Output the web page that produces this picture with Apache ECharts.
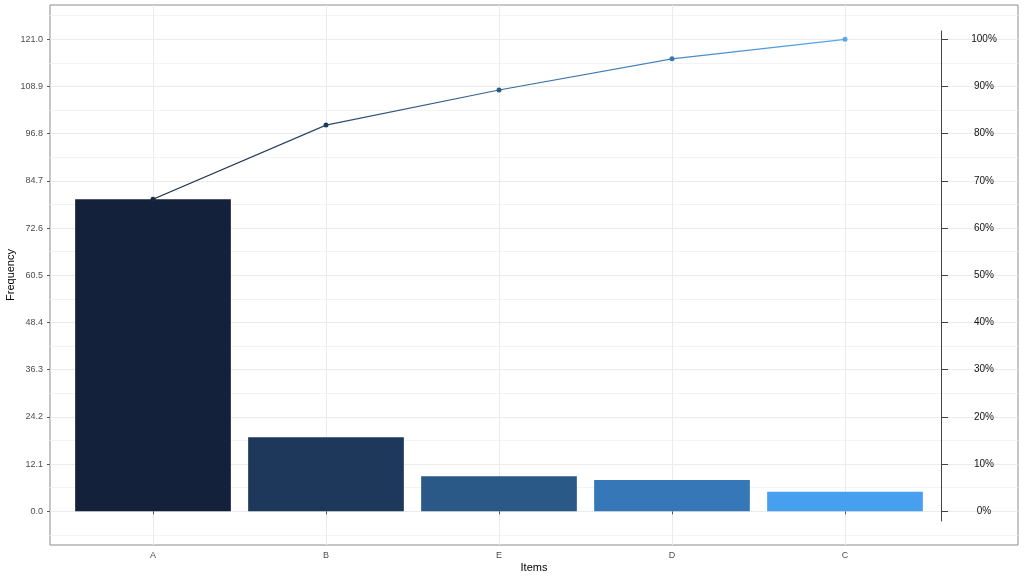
<!DOCTYPE html>
<html>
<head>
<meta charset="utf-8">
<script src="https://cdn.jsdelivr.net/npm/echarts@6/dist/echarts.min.js"></script>
<style>
  html, body { margin: 0; padding: 0; background: #fff; }
  #chart { width: 1024px; height: 576px; }
</style>
</head>
<body>
<div id="chart"></div>
<script>
// pareto data
var items = ['A', 'B', 'E', 'D', 'C'];
var frequency = [80, 19, 9, 8, 5];
var cumulative = [80, 99, 108, 116, 121];
var barColors = ['#13213a', '#1d385b', '#2a5887', '#3677b8', '#479ff0'];
var pointColors = ['#1a2a40', '#1e3b5d', '#2a5a88', '#3a78b5', '#56a8f0'];
var freqTicks = [0, 12.1, 24.2, 36.3, 48.4, 60.5, 72.6, 84.7, 96.8, 108.9, 121];
var minorTicks = [-6.05, 6.05, 18.15, 30.25, 42.35, 54.45, 66.55, 78.65, 90.75, 102.85, 114.95, 127.05];
var pctTicks = [0, 10, 20, 30, 40, 50, 60, 70, 80, 90, 100];

var FONT = 'Liberation Sans';
var yMin = -8.64, yMax = 129.79;

var chart = echarts.init(document.getElementById('chart'));

var option = {
  animation: false,
  textStyle: { fontFamily: FONT },
  graphic: [
    {
      type: 'text', x: 11, y: 275, rotation: Math.PI / 2,
      style: { text: 'Frequency', fill: '#000', font: '11px "Liberation Sans"', align: 'center', verticalAlign: 'middle' }
    }
  ],
  grid: [
    // panel frame
    { left: 50, right: 6, top: 5, bottom: 31, show: true, borderColor: '#8c8c8c', borderWidth: 1,
      containLabel: false, outerBoundsMode: 'none' },
    // bars / line
    { left: 153, right: 179, top: 5, bottom: 31, containLabel: false, outerBoundsMode: 'none' },
    // percent axis
    { left: 800, right: 83, top: 31, bottom: 55, containLabel: false, outerBoundsMode: 'none' }
  ],
  xAxis: [
    {
      type: 'category', gridIndex: 1, data: items, boundaryGap: false,
      axisLine: { show: false },
      axisTick: { show: true, length: 3, lineStyle: { color: '#555' } },
      axisLabel: { color: '#4d4d4d', fontSize: 9, margin: 6 },
      splitLine: { show: true, lineStyle: { color: '#ebebeb', width: 1 } }
    },
    {
      type: 'value', gridIndex: 0, min: 0, max: 1,
      axisLine: { show: false }, axisTick: { show: false },
      axisLabel: { show: false }, splitLine: { show: false },
      name: 'Items', nameLocation: 'middle', nameGap: 17,
      nameTextStyle: { color: '#000', fontSize: 11 }
    },
    {
      type: 'value', gridIndex: 2, min: 0, max: 1, show: false
    }
  ],
  yAxis: [
    {
      type: 'value', gridIndex: 0, min: yMin, max: yMax,
      axisLine: { show: false },
      axisTick: { show: true, length: 3, customValues: freqTicks, lineStyle: { color: '#555' } },
      axisLabel: {
        customValues: freqTicks, color: '#4d4d4d', fontSize: 9, margin: 7,
        formatter: function (v) { return v.toFixed(1); }
      },
      splitLine: { show: true, lineStyle: { color: '#ebebeb', width: 1 } }
    },
    {
      type: 'value', gridIndex: 0, min: yMin, max: yMax,
      axisLine: { show: false },
      axisTick: { show: false, customValues: minorTicks },
      axisLabel: { show: false, customValues: minorTicks },
      splitLine: { show: true, lineStyle: { color: '#f3f3f3', width: 1 } }
    },
    {
      type: 'value', gridIndex: 2, min: -2.06, max: 101.76, position: 'right',
      axisLine: { show: true, onZero: false, lineStyle: { color: '#444', width: 1 } },
      axisTick: { show: true, length: 7, customValues: pctTicks, lineStyle: { color: '#444' } },
      axisLabel: {
        customValues: pctTicks, color: '#111', fontSize: 10, margin: 43, align: 'center',
        formatter: '{value}%'
      },
      splitLine: { show: false }
    },
    {
      type: 'value', gridIndex: 1, min: yMin, max: yMax, show: false
    }
  ],
  series: [
    {
      type: 'bar', xAxisIndex: 0, yAxisIndex: 3,
      barWidth: '90%', clip: false,
      data: frequency.map(function (v, i) {
        return { value: v, itemStyle: { color: barColors[i] } };
      })
    },
    {
      type: 'line', xAxisIndex: 0, yAxisIndex: 3,
      symbol: 'circle', symbolSize: 5, clip: false,
      lineStyle: {
        width: 1.2,
        color: new echarts.graphic.LinearGradient(0, 0, 1, 0, [
          { offset: 0, color: '#1a2a40' },
          { offset: 1, color: '#56a8f0' }
        ])
      },
      data: cumulative.map(function (v, i) {
        return { value: v, itemStyle: { color: pointColors[i] } };
      }),
      z: 5
    }
  ]
};

chart.setOption(option);
</script>
</body>
</html>
